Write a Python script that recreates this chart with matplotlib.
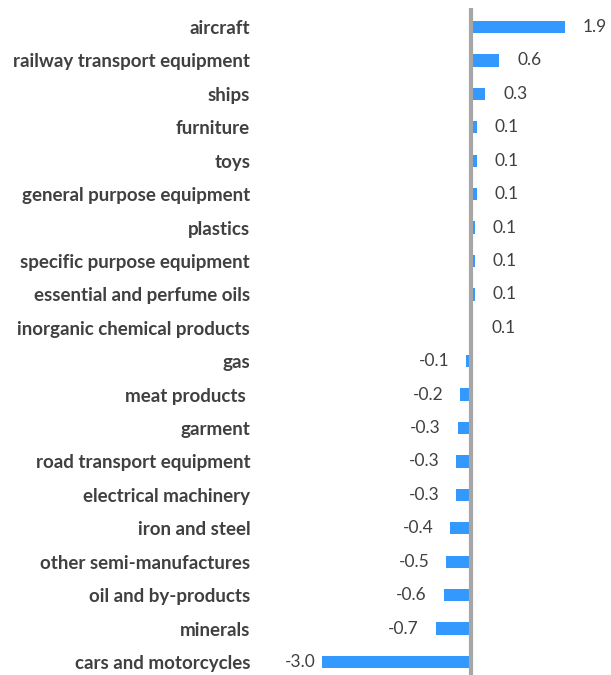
import matplotlib
matplotlib.use("Agg")
import matplotlib.pyplot as plt

categories = ["aircraft", "railway transport equipment", "ships", "furniture", "toys",
              "general purpose equipment", "plastics", "specific purpose equipment",
              "essential and perfume oils", "inorganic chemical products", "gas",
              "meat products ", "garment", "road transport equipment",
              "electrical machinery", "iron and steel", "other semi-manufactures",
              "oil and by-products", "minerals", "cars and motorcycles"]
values = [1.91, 0.58, 0.29, 0.12, 0.12, 0.12, 0.08, 0.08, 0.08, 0.04,
          -0.1, -0.22, -0.27, -0.31, -0.31, -0.43, -0.51, -0.56, -0.72, -3.05]
labels = ["1.9", "0.6", "0.3", "0.1", "0.1", "0.1", "0.1", "0.1", "0.1", "0.1",
          "-0.1", "-0.2", "-0.3", "-0.3", "-0.3", "-0.4", "-0.5", "-0.6", "-0.7", "-3.0"]

W, H = 611, 675
fig = plt.figure(figsize=(W / 100, H / 100), dpi=100)
x0, x1 = -3.4, 2.5
ax = fig.add_axes([304.4 / W, 0, (593.5 - 304.4) / W, 667 / H])

ypos = list(range(len(categories)))
ax.barh(ypos, values, height=0.37, color="#3399ff", zorder=2)
ax.axvline(0, color="#a6a6a6", lw=3, zorder=3)

for y, v, t in zip(ypos, values, labels):
    if v >= 0:
        ax.annotate(t, (v, y), xytext=(13, 0), textcoords="offset points",
                    ha="left", va="center", fontsize=12.5, color="#404040",
                    family="Lato", annotation_clip=False)
    else:
        # labels that would run past the plot edge sit tight to the bar
        off = -12 if v > -2 else -4
        ax.annotate(t, (v, y), xytext=(off, 0), textcoords="offset points",
                    ha="right", va="center", fontsize=12.5, color="#404040",
                    family="Lato", annotation_clip=False)

ax.set_xlim(x0, x1)
ax.set_ylim(19.39, -0.57)
ax.set_yticks(ypos)
ax.set_yticklabels(categories, fontsize=13.5, fontweight="bold", color="#404040",
                   family="Lato")
ax.tick_params(axis="y", length=0, pad=39)
ax.set_xticks([])
for s in ax.spines.values():
    s.set_visible(False)

fig.savefig("out.png", dpi=100)
